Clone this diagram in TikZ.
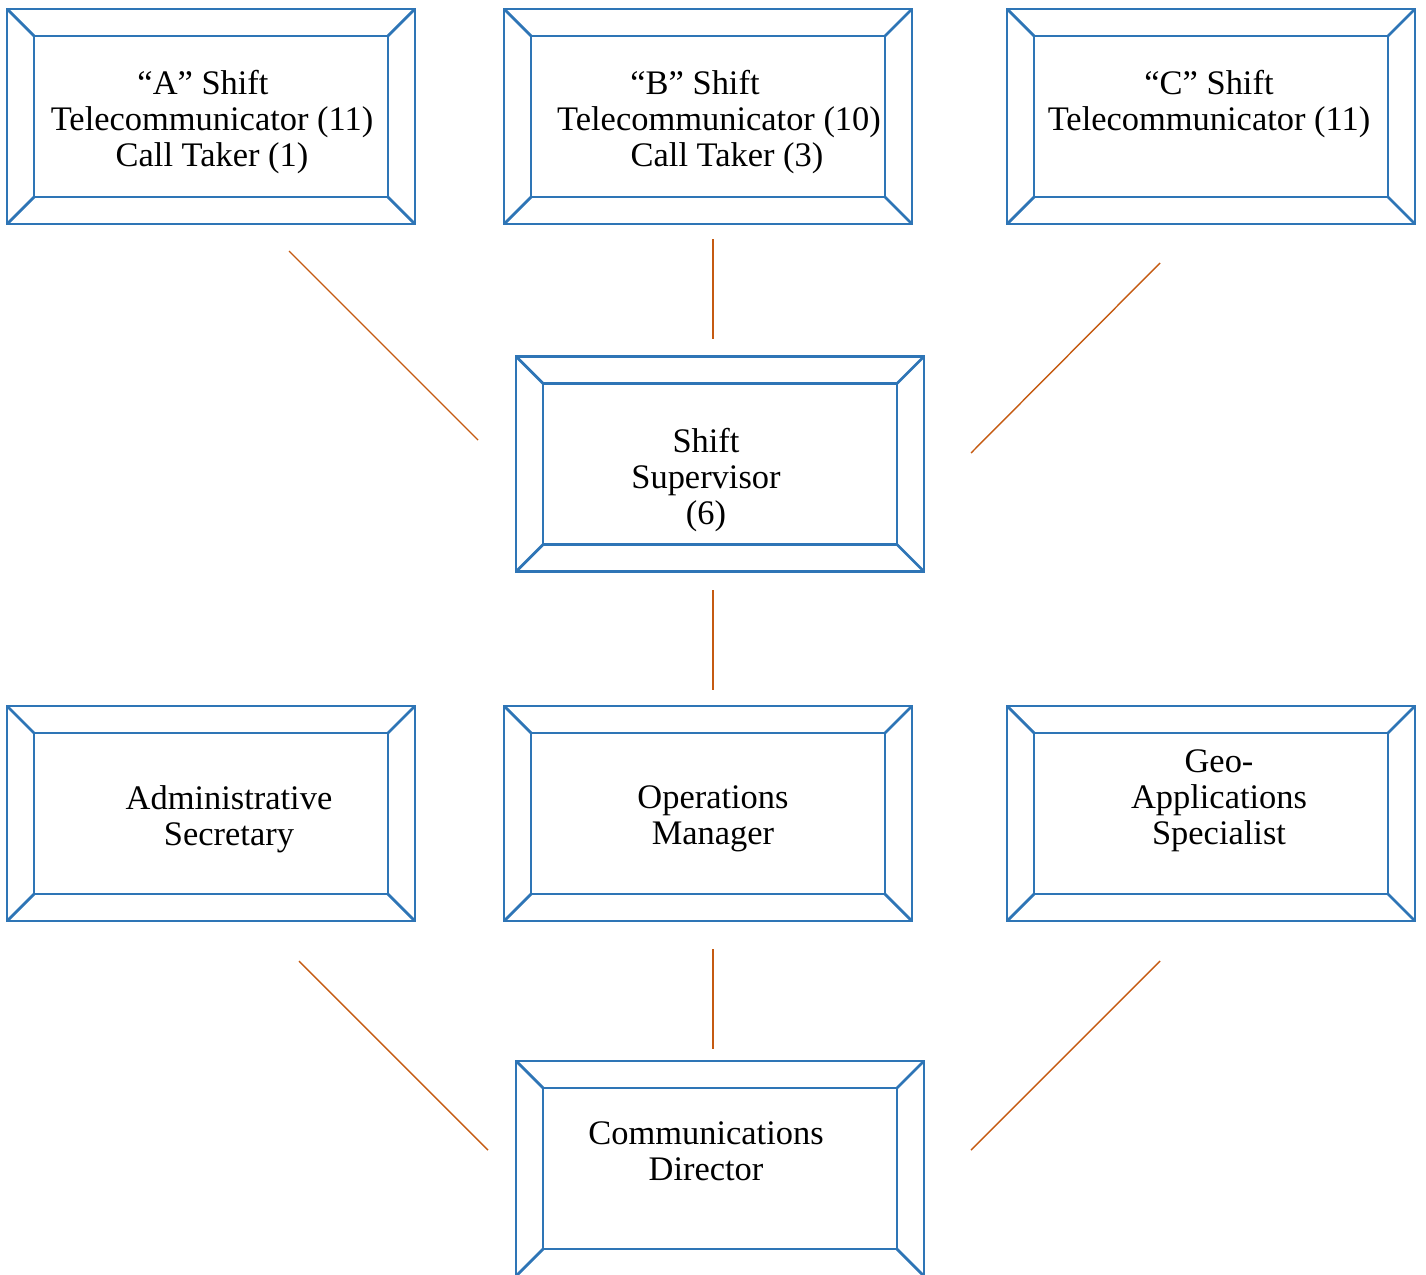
\documentclass[tikz,border=0pt]{standalone}
\usepackage{fontspec}
\setmainfont{Liberation Serif}
\usepackage{xcolor}
\usetikzlibrary{calc}

\definecolor{boxblue}{HTML}{2E75B6}
\definecolor{linkorange}{HTML}{C55A11}

\tikzset{
  bevel/.style={draw=boxblue, line width=1.6pt, minimum width=8.16cm, minimum height=4.3cm, inner sep=0pt, outer sep=0pt},
  bevelline/.style={draw=boxblue, line width=1.6pt},
  link/.style={draw=linkorange, line width=0.8pt},
  lbl/.style={align=center, inner sep=0pt, font=\fontsize{19.6}{20.5}\selectfont}
}

% inner frame and corner bevels of a box node
\newcommand{\bevelframe}[1]{%
  \draw[bevelline] ($(#1.north west)+(27,27)$) rectangle ($(#1.south east)+(-27,-27)$);
  \draw[bevelline] (#1.north west) -- ++(27,27);
  \draw[bevelline] (#1.north east) -- ++(-27,27);
  \draw[bevelline] (#1.south west) -- ++(27,-27);
  \draw[bevelline] (#1.south east) -- ++(-27,-27);
}

\begin{document}
\begin{tikzpicture}[x=0.02cm, y=-0.02cm]
\useasboundingbox (0,0) rectangle (1426,1274);

% shift boxes
\node[bevel] (shiftA) at (211,116.5) {};
\node[bevel] (shiftB) at (708,116.5) {};
\node[bevel] (shiftC) at (1211,116.5) {};
\bevelframe{shiftA}
\bevelframe{shiftB}
\bevelframe{shiftC}
\node[lbl] (shiftAtxt) at (212,122) {“A” Shift\hspace*{0.36cm}\\Telecommunicator (11)\\Call Taker (1)};
\node[lbl] (shiftBtxt) at (719,122) {“B” Shift\hspace*{0.96cm}\\Telecommunicator (10)\\\hspace*{0.32cm}Call Taker (3)};
\node[lbl] (shiftCtxt) at (1209,104) {“C” Shift\\Telecommunicator (11)};

% supervisor
\node[bevel] (super) at (720,464) {};
\bevelframe{super}
\node[lbl] (supertxt) at (706,480) {Shift\\Supervisor\\(6)};

% middle row
\node[bevel] (admin) at (211,813.5) {};
\node[bevel] (ops) at (708,813.5) {};
\node[bevel] (geo) at (1211,813.5) {};
\bevelframe{admin}
\bevelframe{ops}
\bevelframe{geo}
\node[lbl] (admintxt) at (229,819) {Administrative\\Secretary};
\node[lbl] (opstxt) at (713,819) {Operations\\Manager};
\node[lbl] (geotxt) at (1219,801) {Geo-\\Applications\\Specialist};

% director
\node[bevel] (director) at (720,1168.5) {};
\bevelframe{director}
\node[lbl] (directortxt) at (706,1151) {Communications\\Director};

% connector ends
\coordinate (lA1) at (289,251);
\coordinate (lA2) at (478,440);
\coordinate (lB1) at (713,239);
\coordinate (lB2) at (713,339);
\coordinate (lC1) at (1160,263);
\coordinate (lC2) at (971,453);
\coordinate (lS1) at (713,590);
\coordinate (lS2) at (713,690);
\coordinate (lD1) at (299,961);
\coordinate (lD2) at (488,1150);
\coordinate (lE1) at (713,949);
\coordinate (lE2) at (713,1049);
\coordinate (lF1) at (1160,961);
\coordinate (lF2) at (971,1150);

\draw[link] (lA1) -- (lA2);
\draw[link] (lB1) -- (lB2);
\draw[link] (lC1) -- (lC2);
\draw[link] (lS1) -- (lS2);
\draw[link] (lD1) -- (lD2);
\draw[link] (lE1) -- (lE2);
\draw[link] (lF1) -- (lF2);
\end{tikzpicture}
\end{document}
